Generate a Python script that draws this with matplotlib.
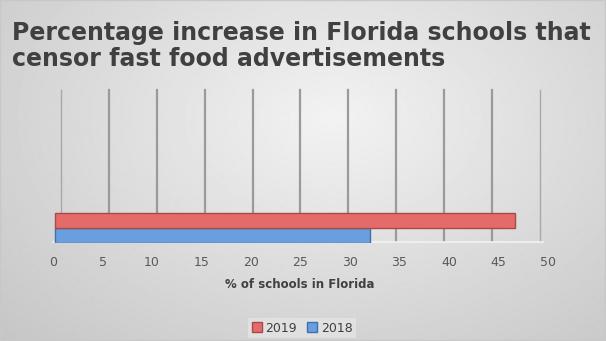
import numpy as np
import matplotlib
matplotlib.use("Agg")
import matplotlib.pyplot as plt
from matplotlib.patches import Rectangle

# Data
series = ["2018", "2019"]
values = [31.8, 46.5]
face_colors = ["#6a9fdf", "#e56b6b"]
edge_colors = ["#3f6fae", "#a84848"]
ticks = [0, 5, 10, 15, 20, 25, 30, 35, 40, 45, 50]
title = "Percentage increase in Florida schools that\ncensor fast food advertisements"
xlabel = "% of schools in Florida"

W, H = 606, 341
DPI = 100
fig = plt.figure(figsize=(W / DPI, H / DPI), dpi=DPI)

# Soft radial gray background
bg = fig.add_axes([0, 0, 1, 1], zorder=-10)
yy, xx = np.mgrid[0:H, 0:W]
r = np.sqrt(((xx - W * 0.55) / (W * 0.75)) ** 2 + ((yy - H * 0.35) / (H * 0.9)) ** 2)
shade = np.clip(0.95 - 0.17 * r, 0.76, 0.95)
bg.imshow(shade, cmap="gray", vmin=0, vmax=1, aspect="auto", interpolation="bilinear")
bg.add_patch(Rectangle((0, 0), W - 1, H - 1, fill=False, edgecolor="#c8c8c8", lw=1))
bg.set_xlim(0, W)
bg.set_ylim(H, 0)
bg.axis("off")


def fx(px):
    return px / W


def fy(py):
    return 1 - py / H


# Back wall with vertical gridlines
back = fig.add_axes([fx(61), fy(241), fx(540) - fx(61), fy(90) - fy(241)], zorder=1)
back.set_xlim(0, 50)
back.set_ylim(0, 1)
back.patch.set_alpha(0)
for t in ticks:
    edge = t in (ticks[0], ticks[-1])
    back.axvline(t, color="#a8a8a8" if edge else "#9a9a9a", lw=1.0 if edge else 1.6,
                 zorder=1, clip_on=False)
back.axis("off")

# Front axis with bars and tick labels
ax = fig.add_axes([fx(53), fy(243), fx(548) - fx(53), fy(90) - fy(243)], zorder=2)
ax.patch.set_alpha(0)
ax.set_xlim(0, 50)
ax.set_ylim(0, 10.2)
ypos = [0.5, 1.5]
for i in range(len(series)):
    ax.barh(ypos[i], values[i], height=1.0, left=0.2, color=face_colors[i],
            edgecolor=edge_colors[i], lw=1.0, zorder=3)
# floor edge
ax.plot([0, 49.5], [0.05, 0.05], color="#f2f2f2", lw=1.2, zorder=2, clip_on=False)
ax.set_xticks(ticks)
ax.set_xticklabels([str(t) for t in ticks], fontsize=9, color="#595959")
ax.tick_params(axis="x", length=0, pad=9)
ax.set_yticks([])
for s in ax.spines.values():
    s.set_visible(False)

fig.text(fx(300), fy(284), xlabel, ha="center", va="center", fontsize=8.5,
         fontweight="bold", color="#404040")

fig.text(fx(12), fy(21), title, ha="left", va="top", fontsize=17.0,
         fontweight="bold", color="#404040", linespacing=1.08)

# Legend
leg_handles = [Rectangle((0, 0), 1, 1, facecolor=face_colors[1], edgecolor=edge_colors[1]),
               Rectangle((0, 0), 1, 1, facecolor=face_colors[0], edgecolor=edge_colors[0])]
leg = fig.legend(leg_handles, [series[1], series[0]], loc="center",
                 bbox_to_anchor=(fx(302), fy(328)), ncol=2, frameon=True,
                 fontsize=9, handlelength=0.8, handleheight=0.8, handletextpad=0.3,
                 columnspacing=0.8, borderpad=0.3, fancybox=False)
leg.get_frame().set_facecolor("#e4e4e4")
leg.get_frame().set_edgecolor("none")
for t in leg.get_texts():
    t.set_color("#404040")

fig.savefig("out.png", dpi=DPI)
